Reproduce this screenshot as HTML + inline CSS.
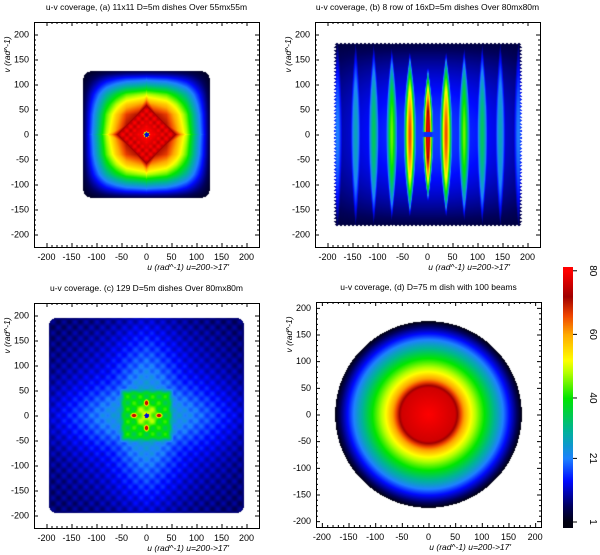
<!DOCTYPE html>
<html><head><meta charset="utf-8">
<style>
body{margin:0;background:#fff;width:600px;height:555px;overflow:hidden;position:relative;font-family:"Liberation Sans",sans-serif}
canvas{position:absolute}
svg{position:absolute;left:0;top:0}
</style></head>
<body>
<canvas id="ca" width="225" height="225" style="left:34px;top:22px"></canvas>
<canvas id="cb" width="226" height="225" style="left:315px;top:22px"></canvas>
<canvas id="cc" width="225" height="225" style="left:34px;top:303px"></canvas>
<canvas id="cd" width="225" height="225" style="left:316px;top:302px"></canvas>
<canvas id="cbar" width="10" height="261" style="left:563px;top:267px"></canvas>
<svg id="ov" width="600" height="555"></svg>
<script>
// ---- data ----
const axisTicks=[-200,-150,-100,-50,0,50,100,150,200];
const cbarTicks=[1,21,40,60,80];
const cmapVals=[1,6,14,21,30,40,48,52,60,66,72,80];
const cmapCols=[[0,0,16],[0,0,90],[0,10,255],[30,130,255],[0,180,150],[0,230,0],[180,255,0],[255,255,0],[255,170,0],[240,70,0],[160,0,0],[255,0,0]];
// panel a axial profile
const aDist=[0,40,60,80,100,120,128];
const aProf=[1,0.9,0.76,0.58,0.33,0.1,0.02];
// panel b stripes
const bAmp=[80,66,45,34,27,21];
const bLen=[115,145,155,165,172,178];
// panel c red blobs
const cBlobU=[25,-25,0,0];
const cBlobV=[0,0,25,-25];
// panel d radial profile
const dRad=[0,50,65,80,105,130,150,175];
const dVal=[80,76,62,52,40,27,15,1];
const titles=["u-v coverage, (a) 11x11 D=5m dishes Over 55mx55m","u-v coverage, (b) 8 row of 16xD=5m dishes Over 80mx80m","u-v coverage. (c) 129 D=5m dishes Over 80mx80m","u-v coverage, (d) D=75 m dish with 100 beams"];

function interp(xs,ys,x){if(x<=xs[0])return ys[0];for(let i=1;i<xs.length;i++){if(x<=xs[i]){const t=(x-xs[i-1])/(xs[i]-xs[i-1]);return ys[i-1]+t*(ys[i]-ys[i-1]);}}return ys[ys.length-1];}
function cmap(v){if(v<=cmapVals[0])return cmapCols[0];for(let i=1;i<cmapVals.length;i++){if(v<=cmapVals[i]){const t=(v-cmapVals[i-1])/(cmapVals[i]-cmapVals[i-1]);const a=cmapCols[i-1],b=cmapCols[i];return[a[0]+t*(b[0]-a[0]),a[1]+t*(b[1]-a[1]),a[2]+t*(b[2]-a[2])];}}return cmapCols[cmapCols.length-1];}
function rsq(u,v,h,r){const x=Math.abs(u)-(h-r),y=Math.abs(v)-(h-r);if(x>0&&y>0)return x*x+y*y<=r*r;return Math.abs(u)<=h&&Math.abs(v)<=h;}
function sstep(a,b,x){const t=Math.min(1,Math.max(0,(x-a)/(b-a)));return t*t*(3-2*t);}

function fa(u,v){if(!rsq(u,v,126,14))return null;const r2=u*u+v*v;if(r2<20)return 12;if(r2<40)return 50;
 const au=Math.abs(u),av=Math.abs(v);let val=80*interp(aDist,aProf,au)*interp(aDist,aProf,av)+2;
 const s=au+av;const D=(s<55?77+3*Math.cos(au*0.4)*Math.cos(av*0.4):80-1.0*(s-50));
 val=Math.max(val,D);return Math.min(val,80);}
function fb(u,v){const eu=185+2*Math.cos(v*0.9);const ev=182+2*Math.cos(u*0.8);if(Math.abs(u)>eu||Math.abs(v)>ev)return null;
 let val=4+13*(1-Math.pow(v/185,2))*(1-Math.pow(u/240,2));
 for(let k=-5;k<=5;k++){const a=Math.abs(k);const L=bLen[a];if(Math.abs(v)>L+25)continue;const uc=k*36;const q=Math.max(0,1-Math.pow(v/(L+25),2));
  const w=Math.max(2,(a==0?9:11)*q);const s=bAmp[a]*Math.pow(q,0.8)*Math.exp(-Math.pow((u-uc)/w,2));
  if(a==0&&Math.abs(v)<5)continue;val=Math.max(val,s);}
 if(Math.abs(u)<8&&Math.abs(v)<5)val=16;return Math.min(val,80);}
function fc(u,v){if(!rsq(u,v,195,15))return null;const au=Math.abs(u),av=Math.abs(v);
 let val=6+15*(1-au/250)*(1-av/250)+9*Math.max(Math.exp(-Math.pow(u/60,2))*(1-av/240),Math.exp(-Math.pow(v/60,2))*(1-au/240));
 val+=2*Math.cos(2*Math.PI*u/22)*Math.cos(2*Math.PI*v/22);
 const m=(1-sstep(42,56,au))*(1-sstep(42,56,av));
 const inner=38+4*Math.cos(2*Math.PI*u/25)*Math.cos(2*Math.PI*v/25)+12*Math.exp(-(u*u+v*v)/500);
 val=val*(1-m)+Math.max(val,inner)*m;
 for(let i=0;i<cBlobU.length;i++){const du=(u-cBlobU[i]),dv=(v-cBlobV[i]);const d2=cBlobU[i]?du*du+dv*dv*2:du*du*2+dv*dv;val=Math.max(val,80*Math.exp(-d2/90));}
 if(u*u+v*v<20)val=12;return Math.min(val,80);}
function fd(u,v){const r=Math.sqrt(u*u+v*v);if(r>175)return null;return interp(dRad,dVal,r);}

function render(id,range,f){const c=document.getElementById(id);const ctx=c.getContext('2d');const W=c.width,H=c.height;const img=ctx.createImageData(W,H);
 for(let j=0;j<H;j++)for(let i=0;i<W;i++){const u=-range+(i+0.5)/W*2*range,v=range-(j+0.5)/H*2*range;const val=f(u,v);const p=(j*W+i)*4;
 if(val===null){img.data[p]=255;img.data[p+1]=255;img.data[p+2]=255;}else{const col=cmap(val);img.data[p]=col[0];img.data[p+1]=col[1];img.data[p+2]=col[2];}img.data[p+3]=255;}
 ctx.putImageData(img,0,0);}
render('ca',225,fa);render('cb',225,fb);render('cc',225,fc);render('cd',211,fd);
(function(){const c=document.getElementById('cbar');const ctx=c.getContext('2d');for(let y=0;y<c.height;y++){const val=1+(522-267-y)/3.18;const col=cmap(val);ctx.fillStyle=`rgb(${col[0]|0},${col[1]|0},${col[2]|0})`;ctx.fillRect(0,y,10,1);}})();

const NS="http://www.w3.org/2000/svg";const ov=document.getElementById('ov');
function el(tag,attrs,txt){const e=document.createElementNS(NS,tag);for(const k in attrs)e.setAttribute(k,attrs[k]);if(txt!==undefined)e.textContent=txt;ov.appendChild(e);return e;}
const panels=[{x:34,y:22,r:225,n:'a'},{x:315,y:22,r:225,n:'b'},{x:34,y:303,r:225,n:'c'},{x:316,y:302,r:211,n:'d'}];
panels.forEach((p,idx)=>{const S=225;const sc=v=>(v+p.r)/(2*p.r)*S;
 const fr=el('rect',{x:p.x+0.5,y:p.y+0.5,width:S,height:S,fill:'none',stroke:'#000','stroke-width':1});
 
 
 let d='';for(let t=-200;t<=200;t+=10){const M=(t%50===0)?4:2;const xx=p.x+sc(t)+0.5,yy=p.y+S-sc(t)+0.5;
  d+=`M${xx},${p.y}v${M}M${xx},${p.y+S}v${-M}M${p.x},${yy}h${M}M${p.x+S},${yy}h${-M}`;}
 const tk=el('path',{d:d,stroke:'#000','stroke-width':1,fill:'none'});
 
 
 axisTicks.forEach(t=>{const xl=el('text',{x:p.x+sc(t),y:p.y+S+13,'font-size':'9','text-anchor':'middle'},String(t));
  
  
  const yl=el('text',{x:p.x-5,y:p.y+S-sc(t)+3,'font-size':'9','text-anchor':'end'},String(t));
  
  });
 const ti=el('text',{x:p.x+S/2,y:p.y-12,'font-size':'8.5','text-anchor':'middle'},titles[idx]);
 
 
 const xt=el('text',{x:p.x+S-30,y:p.y+S+23,'font-size':'8.5','font-style':'italic','text-anchor':'end'},"u (rad^-1) u=200->17'");
 
 
 const cy=p.y+S/2-80;const yt=el('text',{x:0,y:0,'font-size':'8.5','font-style':'italic','text-anchor':'middle',transform:`translate(${p.x-24},${cy}) rotate(-90)`},"v (rad^-1)");
 
 
});
cbarTicks.forEach(t=>{const y=522-(t-1)*3.18;const tk=el('path',{d:`M573,${y}h4`,stroke:'#000','stroke-width':1});
 
 
 const lb=el('text',{x:0,y:0,'font-size':'10','text-anchor':'middle',transform:`translate(590,${y}) rotate(90)`},String(t));
 
 });
</script>
</body></html>
